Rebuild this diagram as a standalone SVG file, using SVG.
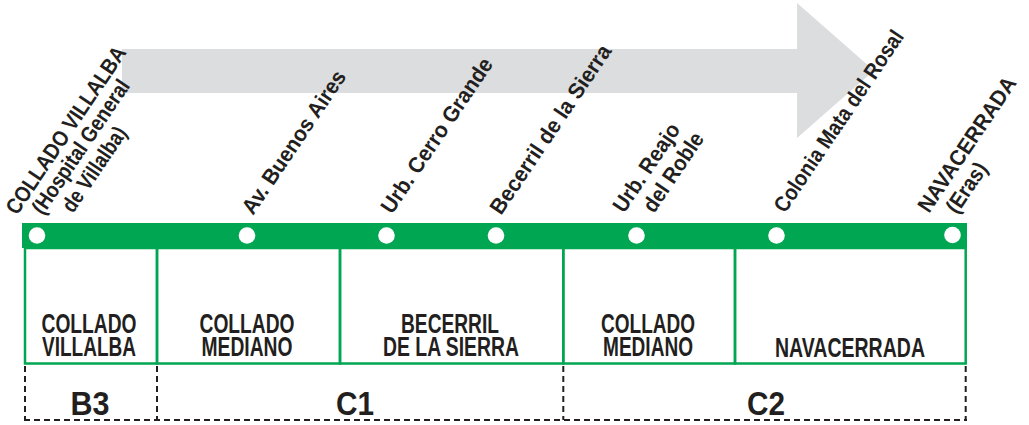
<svg xmlns="http://www.w3.org/2000/svg" width="1029" height="425" viewBox="0 0 1029 425">
<style>
.st{font-family:"Liberation Sans Narrow","Liberation Sans",Arial,sans-serif;font-weight:bold;font-size:22px;fill:#231f20}
.bx{font-family:"Liberation Sans Narrow","Liberation Sans",Arial,sans-serif;font-weight:bold;font-size:27px;fill:#231f20;text-anchor:middle}
.zn{font-family:"Liberation Sans Narrow","Liberation Sans",Arial,sans-serif;font-weight:bold;font-size:33px;fill:#231f20;text-anchor:middle}
.box{fill:none;stroke:#00a651;stroke-width:2.5}
.dash{fill:none;stroke:#231f20;stroke-width:2;stroke-dasharray:6 4}
.dot{fill:#fff}
</style>
<g id="arrow">
<polygon points="122,49 797,49 797,3 874,70.5 797,138 797,93 122,93" fill="#dcdddf"/>
</g>
<g id="line">
<rect x="22" y="223" width="945" height="25" fill="#00a651"/>
<circle class="dot" cx="37" cy="235.5" r="8.3"/>
<circle class="dot" cx="247" cy="235.5" r="8.3"/>
<circle class="dot" cx="386.5" cy="235.5" r="8.3"/>
<circle class="dot" cx="496" cy="235.5" r="8.3"/>
<circle class="dot" cx="636.5" cy="235.5" r="8.3"/>
<circle class="dot" cx="776.5" cy="235.5" r="8.3"/>
<circle class="dot" cx="952.5" cy="235" r="8.3"/>
</g>
<g id="stations">
<text class="st" transform="translate(17,216) rotate(-56)" textLength="197" lengthAdjust="spacingAndGlyphs">COLLADO VILLALBA</text>
<text class="st" transform="translate(43,216) rotate(-56)" textLength="157" lengthAdjust="spacingAndGlyphs">(Hospital General</text>
<text class="st" transform="translate(73,214) rotate(-56)" textLength="98" lengthAdjust="spacingAndGlyphs">de Villalba)</text>
<text class="st" transform="translate(253,216) rotate(-56)" textLength="168" lengthAdjust="spacingAndGlyphs">Av. Buenos Aires</text>
<text class="st" transform="translate(392,215) rotate(-56)" textLength="182" lengthAdjust="spacingAndGlyphs">Urb. Cerro Grande</text>
<text class="st" transform="translate(501,216) rotate(-56)" textLength="199" lengthAdjust="spacingAndGlyphs">Becerril de la Sierra</text>
<text class="st" transform="translate(624,214) rotate(-56)" textLength="102" lengthAdjust="spacingAndGlyphs">Urb. Reajo</text>
<text class="st" transform="translate(654,214) rotate(-56)" textLength="91" lengthAdjust="spacingAndGlyphs">del Roble</text>
<text class="st" transform="translate(785,214) rotate(-56)" textLength="214" lengthAdjust="spacingAndGlyphs">Colonia Mata del Rosal</text>
<text class="st" transform="translate(929,214) rotate(-56)" textLength="158" lengthAdjust="spacingAndGlyphs">NAVACERRADA</text>
<text class="st" transform="translate(957,215) rotate(-56)" textLength="56" lengthAdjust="spacingAndGlyphs">(Eras)</text>
</g>
<g id="box-collado-villalba">
<rect class="box" x="25" y="248" width="132" height="115.5"/>
<text class="bx" x="89" y="333" textLength="95" lengthAdjust="spacingAndGlyphs">COLLADO</text>
<text class="bx" x="89" y="356" textLength="94" lengthAdjust="spacingAndGlyphs">VILLALBA</text>
</g>
<g id="box-collado-mediano-1">
<rect class="box" x="157" y="248" width="183" height="115.5"/>
<text class="bx" x="247" y="333" textLength="95" lengthAdjust="spacingAndGlyphs">COLLADO</text>
<text class="bx" x="247" y="356" textLength="91" lengthAdjust="spacingAndGlyphs">MEDIANO</text>
</g>
<g id="box-becerril">
<rect class="box" x="340" y="248" width="223.3" height="115.5"/>
<text class="bx" x="450" y="333" textLength="98" lengthAdjust="spacingAndGlyphs">BECERRIL</text>
<text class="bx" x="451" y="356" textLength="136" lengthAdjust="spacingAndGlyphs">DE LA SIERRA</text>
</g>
<g id="box-collado-mediano-2">
<rect class="box" x="563.3" y="248" width="171.7" height="115.5"/>
<text class="bx" x="648" y="333" textLength="94" lengthAdjust="spacingAndGlyphs">COLLADO</text>
<text class="bx" x="648" y="356" textLength="90" lengthAdjust="spacingAndGlyphs">MEDIANO</text>
</g>
<g id="box-navacerrada">
<rect class="box" x="735" y="248" width="230.7" height="115.5"/>
<text class="bx" x="850" y="357" textLength="150" lengthAdjust="spacingAndGlyphs">NAVACERRADA</text>
</g>
<g id="zones">
<line class="dash" x1="25" y1="366" x2="25" y2="420"/>
<line class="dash" x1="157" y1="366" x2="157" y2="420"/>
<line class="dash" x1="563.3" y1="366" x2="563.3" y2="420"/>
<line class="dash" x1="965.7" y1="366" x2="965.7" y2="420"/>
<line class="dash" x1="24" y1="420" x2="967" y2="420"/>
<text class="zn" x="90" y="415" textLength="39" lengthAdjust="spacingAndGlyphs">B3</text>
<text class="zn" x="355" y="415" textLength="38" lengthAdjust="spacingAndGlyphs">C1</text>
<text class="zn" x="766" y="415" textLength="38" lengthAdjust="spacingAndGlyphs">C2</text>
</g>
</svg>
